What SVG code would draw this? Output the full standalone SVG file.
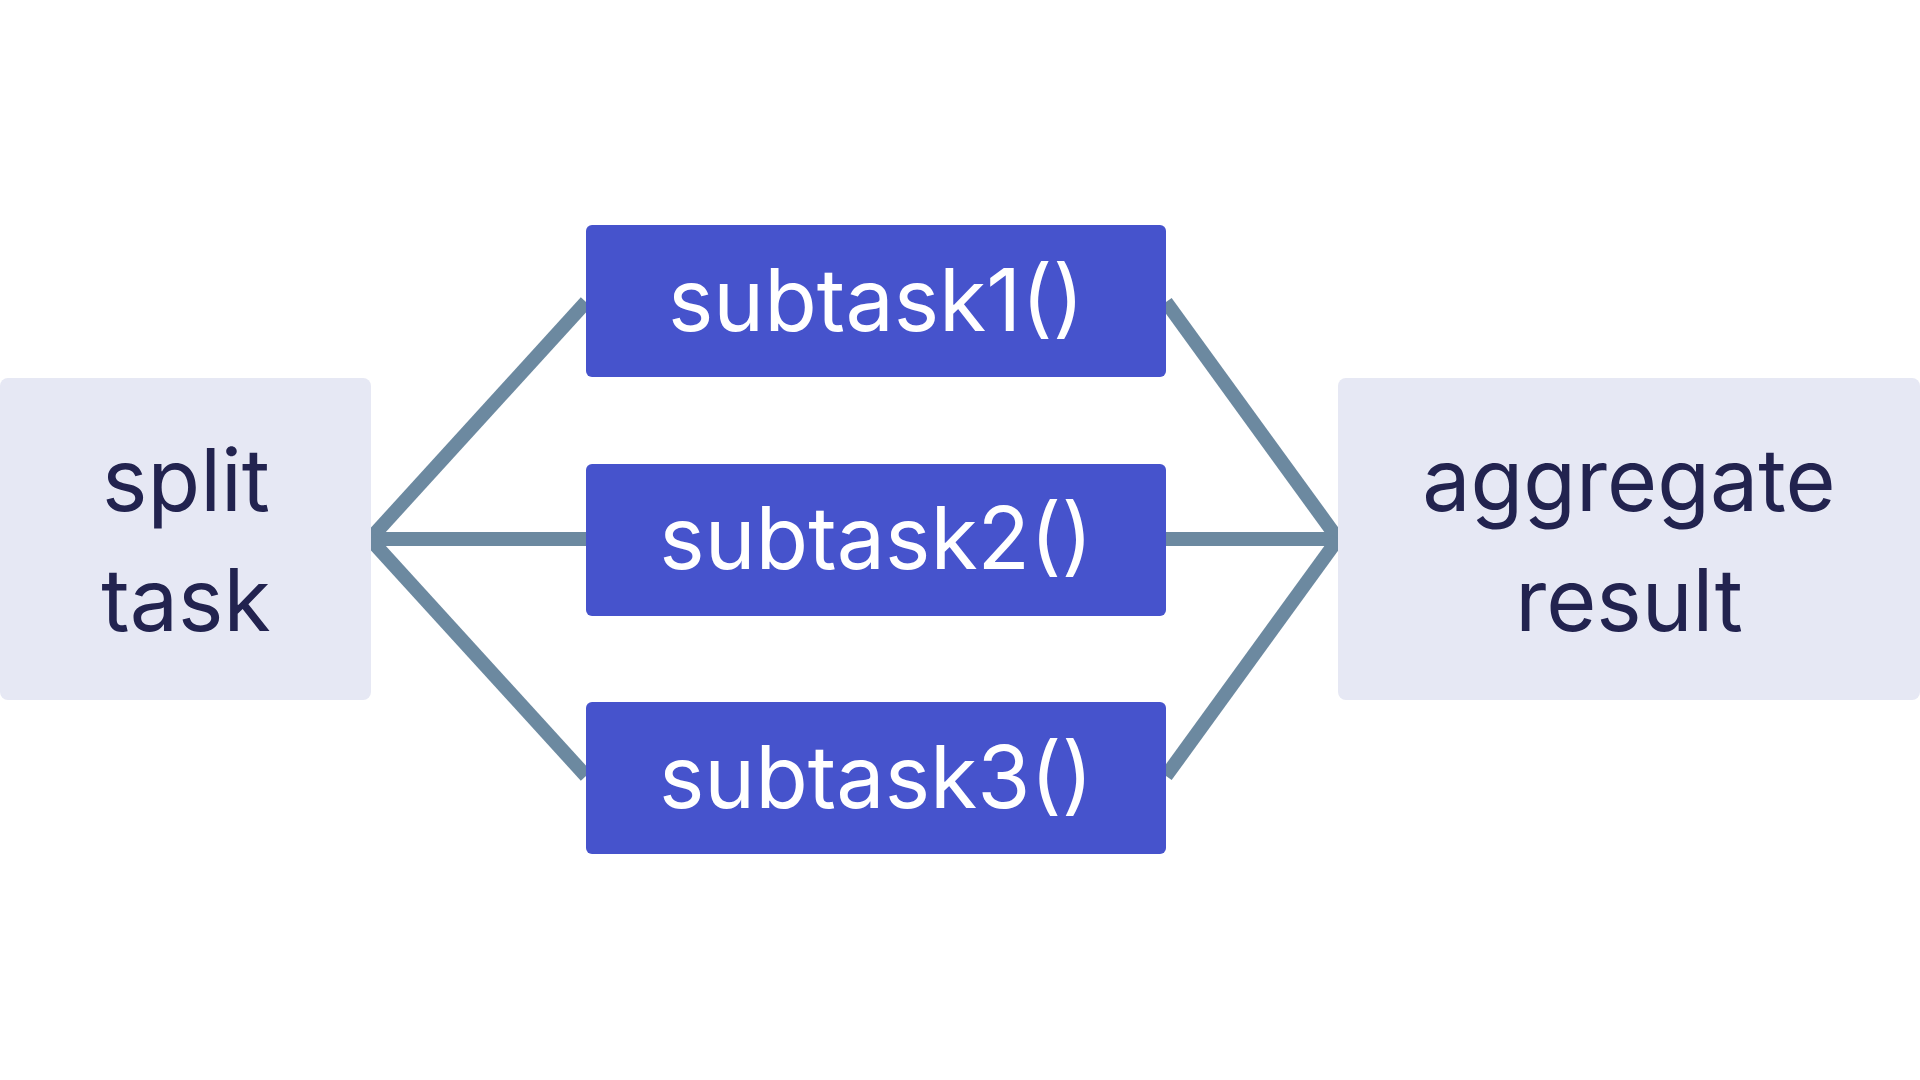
<svg xmlns="http://www.w3.org/2000/svg" width="1920" height="1080" viewBox="0 0 1920 1080">
<style>
.bg{fill:#ffffff}
.term{fill:#e6e8f4}
.sub{fill:#4653cc}
.tl{font-family:Inter,"Liberation Sans",sans-serif;font-size:86px;text-anchor:middle}
.dark{fill:#22234f}
.light{fill:#ffffff}
.edge{stroke:#6c89a0;stroke-width:14;fill:none;stroke-linecap:butt}
</style>
<rect class="bg" x="0" y="0" width="1920" height="1080"/>
<g id="edges">
<line class="edge" x1="370" y1="539" x2="586" y2="302"/>
<line class="edge" x1="370" y1="539" x2="586" y2="539"/>
<line class="edge" x1="370" y1="539" x2="586" y2="776"/>
<line class="edge" x1="1166" y1="302" x2="1338" y2="539"/>
<line class="edge" x1="1166" y1="539" x2="1338" y2="539"/>
<line class="edge" x1="1166" y1="776" x2="1338" y2="539"/>
</g>
<g id="split">
<rect class="term" x="0" y="378" width="371" height="322" rx="8"/>
<text class="tl dark" x="186" y="511">split</text>
<text class="tl dark" x="186" y="631">task</text>
</g>
<g id="subtask1">
<rect class="sub" x="586" y="225" width="580" height="152" rx="6"/>
<text class="tl light" x="876" y="331">subtask1()</text>
</g>
<g id="subtask2">
<rect class="sub" x="586" y="464" width="580" height="152" rx="6"/>
<text class="tl light" x="876" y="569">subtask2()</text>
</g>
<g id="subtask3">
<rect class="sub" x="586" y="702" width="580" height="152" rx="6"/>
<text class="tl light" x="876" y="808">subtask3()</text>
</g>
<g id="aggregate">
<rect class="term" x="1338" y="378" width="582" height="322" rx="8"/>
<text class="tl dark" x="1629" y="511">aggregate</text>
<text class="tl dark" x="1629" y="631">result</text>
</g>
</svg>
